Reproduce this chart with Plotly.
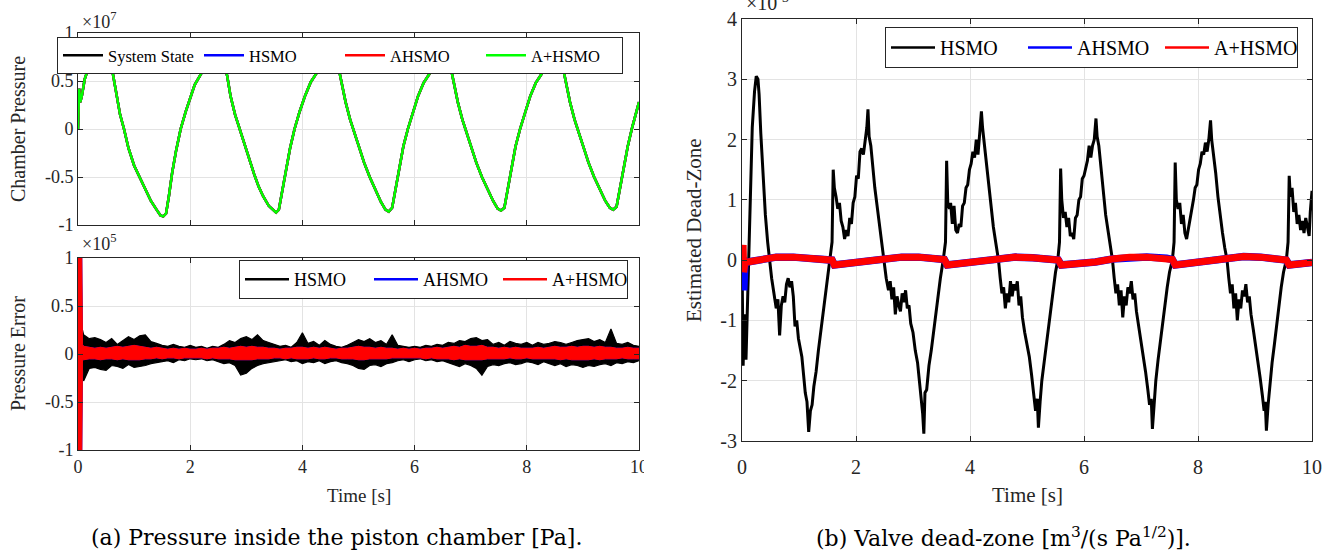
import numpy as np
import plotly.graph_objects as go

# ---------------- DATA ----------------
# (a) top: chamber pressure, units of 1e7 Pa
press_t = [0.00, 0.02, 0.04, 0.07, 0.12, 0.20, 0.30, 0.40, 0.47, 0.55, 0.62, 0.68, 0.75, 0.82, 0.90,
           1.00, 1.10, 1.20, 1.30, 1.40, 1.47, 1.52, 1.57, 1.62, 1.68, 1.75, 1.83, 1.92, 2.00, 2.08,
           2.18, 2.28, 2.38, 2.45, 2.52, 2.60, 2.66, 2.72, 2.80, 2.88, 2.96, 3.05, 3.14, 3.22, 3.30,
           3.40, 3.48, 3.53, 3.58, 3.63, 3.70, 3.78, 3.86, 3.95, 4.05, 4.15, 4.25, 4.35, 4.43, 4.50,
           4.56, 4.63, 4.70, 4.77, 4.85, 4.92, 5.00, 5.10, 5.20, 5.30, 5.40, 5.48, 5.54, 5.60, 5.65,
           5.72, 5.80, 5.88, 5.97, 6.06, 6.16, 6.26, 6.36, 6.44, 6.50, 6.56, 6.63, 6.70, 6.77, 6.85,
           6.92, 7.00, 7.10, 7.20, 7.30, 7.40, 7.48, 7.54, 7.60, 7.65, 7.72, 7.80, 7.88, 7.97, 8.06,
           8.16, 8.26, 8.36, 8.44, 8.50, 8.56, 8.63, 8.70, 8.77, 8.85, 8.92, 9.00, 9.10, 9.20, 9.30,
           9.40, 9.48, 9.54, 9.60, 9.65, 9.72, 9.80, 9.88, 9.95, 10.00]
press_state = [0.00, 0.42, 0.28, 0.35, 0.52, 0.66, 0.80, 0.86, 0.85, 0.75, 0.58, 0.36, 0.15, 0.00, -0.20,
               -0.38, -0.50, -0.62, -0.75, -0.84, -0.90, -0.91, -0.88, -0.70, -0.45, -0.22, 0.00, 0.18, 0.33, 0.46,
               0.56, 0.66, 0.78, 0.83, 0.80, 0.70, 0.55, 0.34, 0.15, 0.00, -0.15, -0.30, -0.47, -0.60, -0.70,
               -0.80, -0.85, -0.87, -0.84, -0.68, -0.45, -0.20, 0.00, 0.18, 0.35, 0.49, 0.58, 0.68, 0.80, 0.84,
               0.80, 0.68, 0.48, 0.28, 0.10, -0.03, -0.18, -0.35, -0.50, -0.64, -0.76, -0.84, -0.86, -0.82, -0.65,
               -0.42, -0.18, 0.00, 0.18, 0.34, 0.48, 0.57, 0.68, 0.80, 0.84, 0.80, 0.68, 0.48, 0.28, 0.10,
               -0.03, -0.18, -0.35, -0.50, -0.63, -0.75, -0.83, -0.85, -0.82, -0.65, -0.42, -0.18, 0.00, 0.18, 0.34,
               0.48, 0.57, 0.68, 0.80, 0.84, 0.80, 0.68, 0.48, 0.28, 0.10, -0.03, -0.18, -0.35, -0.50, -0.63,
               -0.75, -0.82, -0.84, -0.81, -0.65, -0.42, -0.18, 0.02, 0.17, 0.28]

# (a) bottom: pressure error, units of 1e5 Pa (envelopes of the noisy traces)
err_grid = [round(0.1 * k, 1) for k in range(1, 101)]
hsmo_err_head_t = [0.0, 0.03, 0.06, 0.08]
hsmo_err_head_up = [0.0, 0.45, 0.05, 0.25]
hsmo_err_head_lo = [0.0, 0.0, -0.10, -0.05]
hsmo_err_up = [0.20, 0.16, 0.17, 0.15, 0.12, 0.16, 0.10, 0.14, 0.18, 0.15,
               0.19, 0.20, 0.13, 0.11, 0.09, 0.08, 0.10, 0.08, 0.07, 0.09,
               0.07, 0.08, 0.06, 0.08, 0.07, 0.10, 0.14, 0.12, 0.16, 0.18,
               0.15, 0.20, 0.14, 0.12, 0.10, 0.08, 0.09, 0.07, 0.12, 0.22,
               0.11, 0.13, 0.09, 0.14, 0.10, 0.08, 0.07, 0.09, 0.12, 0.15,
               0.13, 0.16, 0.12, 0.14, 0.10, 0.20, 0.09, 0.08, 0.07, 0.08,
               0.07, 0.09, 0.08, 0.10, 0.09, 0.12, 0.11, 0.14, 0.13, 0.16,
               0.17, 0.14, 0.15, 0.10, 0.12, 0.09, 0.13, 0.11, 0.10, 0.12,
               0.09, 0.12, 0.10, 0.11, 0.13, 0.12, 0.10, 0.12, 0.14, 0.15,
               0.16, 0.13, 0.15, 0.12, 0.26, 0.11, 0.10, 0.12, 0.09, 0.08]
hsmo_err_lo = [-0.28, -0.15, -0.14, -0.16, -0.17, -0.12, -0.13, -0.15, -0.11, -0.14,
               -0.13, -0.12, -0.10, -0.09, -0.08, -0.07, -0.09, -0.06, -0.07, -0.05,
               -0.06, -0.05, -0.07, -0.06, -0.08, -0.10, -0.09, -0.12, -0.22, -0.20,
               -0.15, -0.12, -0.10, -0.09, -0.08, -0.07, -0.06, -0.08, -0.07, -0.10,
               -0.08, -0.09, -0.07, -0.10, -0.08, -0.07, -0.09, -0.10, -0.12, -0.15,
               -0.16, -0.12, -0.11, -0.13, -0.10, -0.09, -0.07, -0.06, -0.08, -0.06,
               -0.05, -0.07, -0.06, -0.08, -0.07, -0.09, -0.11, -0.13, -0.10, -0.12,
               -0.15, -0.22, -0.13, -0.11, -0.12, -0.10, -0.09, -0.11, -0.10, -0.08,
               -0.09, -0.11, -0.08, -0.10, -0.12, -0.10, -0.13, -0.11, -0.12, -0.14,
               -0.12, -0.13, -0.11, -0.10, -0.12, -0.09, -0.10, -0.08, -0.09, -0.07]
aplus_err_head_t = [0.0, 0.01, 0.065, 0.08]
aplus_err_head_up = [1.2, 1.2, 1.2, 0.10]
aplus_err_head_lo = [-1.2, -1.2, -1.2, -0.06]
aplus_err_up = [0.08, 0.07, 0.06, 0.07, 0.06, 0.07, 0.08, 0.07, 0.08, 0.09,
                0.08, 0.07, 0.06, 0.07, 0.06, 0.05, 0.06, 0.05, 0.06, 0.05,
                0.05, 0.06, 0.05, 0.06, 0.06, 0.07, 0.06, 0.07, 0.08, 0.07,
                0.08, 0.07, 0.07, 0.06, 0.06, 0.05, 0.06, 0.06, 0.07, 0.07,
                0.06, 0.07, 0.06, 0.07, 0.06, 0.05, 0.06, 0.06, 0.07, 0.08,
                0.07, 0.07, 0.06, 0.07, 0.06, 0.06, 0.05, 0.06, 0.05, 0.06,
                0.05, 0.06, 0.06, 0.07, 0.06, 0.07, 0.08, 0.07, 0.09, 0.08,
                0.08, 0.09, 0.07, 0.07, 0.06, 0.07, 0.06, 0.07, 0.06, 0.06,
                0.06, 0.07, 0.06, 0.07, 0.08, 0.07, 0.07, 0.08, 0.07, 0.08,
                0.08, 0.07, 0.08, 0.07, 0.07, 0.06, 0.06, 0.07, 0.06, 0.06]
aplus_err_lo = [-0.06, -0.05, -0.05, -0.06, -0.05, -0.05, -0.06, -0.05, -0.06, -0.06,
                -0.06, -0.05, -0.05, -0.04, -0.05, -0.04, -0.04, -0.05, -0.04, -0.04,
                -0.04, -0.04, -0.05, -0.04, -0.05, -0.05, -0.05, -0.06, -0.06, -0.06,
                -0.06, -0.05, -0.05, -0.05, -0.04, -0.04, -0.05, -0.04, -0.05, -0.05,
                -0.05, -0.04, -0.05, -0.05, -0.04, -0.04, -0.05, -0.05, -0.05, -0.06,
                -0.06, -0.05, -0.05, -0.05, -0.05, -0.04, -0.04, -0.04, -0.04, -0.04,
                -0.04, -0.05, -0.04, -0.05, -0.05, -0.05, -0.06, -0.05, -0.06, -0.06,
                -0.06, -0.06, -0.05, -0.05, -0.05, -0.05, -0.04, -0.05, -0.05, -0.04,
                -0.05, -0.05, -0.05, -0.05, -0.05, -0.06, -0.05, -0.06, -0.06, -0.06,
                -0.06, -0.05, -0.06, -0.05, -0.05, -0.05, -0.04, -0.05, -0.05, -0.05]

# (b) valve dead-zone estimate, units of 1e-3
dz_hsmo_t = [0.00, 0.02, 0.04, 0.07, 0.10, 0.14, 0.18, 0.22, 0.25, 0.28, 0.30, 0.33, 0.37, 0.41, 0.45, 0.48,
             0.52, 0.56, 0.60, 0.63, 0.66, 0.69, 0.72, 0.75, 0.78, 0.81, 0.84, 0.87, 0.90, 0.93, 0.96, 0.99,
             1.02, 1.05, 1.08, 1.11, 1.14, 1.17, 1.20, 1.23, 1.26, 1.30, 1.34, 1.38, 1.42, 1.46, 1.50, 1.54,
             1.58, 1.60, 1.62, 1.65, 1.68, 1.71, 1.74, 1.77, 1.80, 1.83, 1.86, 1.89, 1.92, 1.95, 1.98, 2.01,
             2.04, 2.07, 2.10, 2.13, 2.16, 2.19, 2.21, 2.23, 2.26, 2.29, 2.33, 2.37, 2.41, 2.45, 2.50,
             2.53, 2.57, 2.60, 2.63, 2.66, 2.69, 2.72, 2.75, 2.78, 2.81, 2.84, 2.87, 2.90, 2.93, 2.96, 3.00,
             3.04, 3.08, 3.11, 3.14, 3.17, 3.19, 3.21, 3.24, 3.28, 3.32, 3.36, 3.40, 3.44, 3.48, 3.53, 3.57,
             3.59, 3.61, 3.64, 3.66, 3.69, 3.72, 3.75, 3.78, 3.81, 3.84, 3.87, 3.90, 3.93, 3.96, 3.99, 4.02,
             4.05, 4.08, 4.11, 4.14, 4.17, 4.20, 4.22, 4.25, 4.29, 4.33, 4.37, 4.41, 4.45, 4.50,
             4.53, 4.56, 4.59, 4.62, 4.65, 4.68, 4.71, 4.74, 4.77, 4.80, 4.83, 4.86, 4.89, 4.92, 4.96, 5.00,
             5.04, 5.08, 5.12, 5.15, 5.18, 5.20, 5.23, 5.26, 5.30, 5.34, 5.38, 5.42, 5.46, 5.50, 5.54, 5.57,
             5.59, 5.61, 5.64, 5.67, 5.70, 5.73, 5.76, 5.79, 5.82, 5.85, 5.88, 5.91, 5.94, 5.97, 6.00, 6.03,
             6.06, 6.09, 6.12, 6.15, 6.18, 6.21, 6.23, 6.26, 6.30, 6.34, 6.38, 6.42, 6.46, 6.50,
             6.53, 6.56, 6.59, 6.62, 6.65, 6.68, 6.71, 6.74, 6.77, 6.80, 6.83, 6.86, 6.89, 6.92, 6.96, 7.00,
             7.04, 7.08, 7.12, 7.15, 7.18, 7.20, 7.23, 7.26, 7.30, 7.34, 7.38, 7.42, 7.46, 7.50, 7.55, 7.58,
             7.60, 7.62, 7.65, 7.68, 7.71, 7.74, 7.77, 7.80, 7.83, 7.86, 7.89, 7.92, 7.95, 7.98, 8.01, 8.04,
             8.07, 8.10, 8.13, 8.16, 8.19, 8.22, 8.24, 8.27, 8.31, 8.35, 8.39, 8.43, 8.47, 8.51,
             8.54, 8.57, 8.60, 8.63, 8.66, 8.69, 8.72, 8.75, 8.78, 8.81, 8.84, 8.87, 8.90, 8.93, 8.97, 9.01,
             9.05, 9.09, 9.13, 9.16, 9.18, 9.20, 9.23, 9.26, 9.30, 9.34, 9.38, 9.42, 9.46, 9.50, 9.55, 9.58,
             9.60, 9.62, 9.65, 9.68, 9.71, 9.74, 9.77, 9.80, 9.83, 9.86, 9.89, 9.92, 9.95, 9.97, 10.00]
dz_hsmo = [0.0, -1.75, -0.9, -1.65, -0.6, 0.8, 2.2, 2.8, 3.05, 3.0, 2.75, 2.1, 1.3, 0.75, 0.3, 0.0,
           -0.3, -0.55, -0.8, -0.65, -1.25, -0.75, -0.6, -0.7, -0.4, -0.3, -0.45, -0.35, -0.6, -1.1, -1.0, -1.3,
           -1.45, -1.6, -1.9, -2.2, -2.35, -2.85, -2.5, -2.4, -2.1, -1.85, -1.5, -1.2, -0.9, -0.55, -0.25, 0.0,
           0.3, 1.5, 1.2, 1.05, 0.85, 0.95, 0.65, 0.55, 0.35, 0.5, 0.4, 0.7, 0.6, 0.95, 1.05, 1.4,
           1.35, 1.8, 1.85, 1.75, 1.95, 2.2, 2.5, 2.05, 1.9, 1.55, 1.2, 0.9, 0.6, 0.35, 0.0,
           -0.3, -0.5, -0.35, -0.65, -0.45, -0.9, -0.6, -0.75, -0.85, -0.55, -0.7, -0.5, -0.8, -0.75, -1.05, -1.2,
           -1.5, -1.7, -2.0, -2.2, -2.55, -2.88, -2.2, -2.15, -1.75, -1.5, -1.2, -0.9, -0.55, -0.3, 0.0, 0.3,
           1.65, 0.95, 0.85, 0.95, 0.6, 0.9, 0.5, 0.45, 0.6, 0.55, 0.9, 0.95, 1.2, 1.25, 1.5, 1.6,
           1.8, 1.7, 2.0, 1.75, 2.1, 2.47, 2.2, 1.95, 1.6, 1.2, 0.85, 0.55, 0.3, 0.0,
           -0.3, -0.55, -0.45, -0.8, -0.55, -0.7, -0.35, -0.6, -0.4, -0.5, -0.35, -0.75, -0.6, -0.95, -1.2, -1.4,
           -1.6, -1.9, -2.2, -2.5, -2.3, -2.78, -2.35, -2.0, -1.7, -1.4, -1.1, -0.75, -0.45, -0.2, 0.0, 0.3,
           1.52, 1.0, 0.7, 0.8, 0.55, 0.7, 0.4, 0.45, 0.35, 0.7, 0.75, 1.0, 1.05, 1.35, 1.4, 1.55,
           1.65, 1.9, 1.7, 1.9, 2.0, 2.35, 2.05, 1.9, 1.5, 1.1, 0.75, 0.5, 0.25, 0.0,
           -0.3, -0.55, -0.4, -0.75, -0.5, -0.95, -0.6, -0.75, -0.45, -0.55, -0.35, -0.65, -0.55, -0.85, -1.1, -1.35,
           -1.55, -1.85, -2.15, -2.4, -2.3, -2.8, -2.4, -2.0, -1.65, -1.35, -1.05, -0.7, -0.45, -0.2, 0.0, 0.3,
           1.62, 1.0, 0.85, 0.95, 0.6, 0.75, 0.45, 0.35, 0.5, 0.65, 0.8, 1.0, 1.2, 1.25, 1.5, 1.6,
           1.8, 1.75, 1.95, 1.8, 2.0, 2.32, 2.0, 1.8, 1.45, 1.05, 0.7, 0.45, 0.2, 0.0,
           -0.3, -0.55, -0.4, -0.8, -0.55, -1.0, -0.65, -0.8, -0.5, -0.6, -0.4, -0.7, -0.6, -0.9, -1.15, -1.4,
           -1.65, -1.95, -2.25, -2.5, -2.35, -2.83, -2.4, -2.05, -1.7, -1.4, -1.05, -0.75, -0.45, -0.2, 0.0, 0.3,
           1.4, 1.05, 1.2, 0.8, 0.95, 0.6, 0.75, 0.5, 0.65, 0.45, 0.7, 0.55, 0.4, 0.8, 1.15]
dz_adapt_t = [0.00, 0.02, 0.03, 0.05, 0.10, 0.30, 0.60, 0.90, 1.20, 1.50, 1.58, 1.62, 1.90, 2.20, 2.50,
              2.80, 3.10, 3.45, 3.55, 3.60, 3.90, 4.20, 4.50, 4.80, 5.10, 5.45, 5.55, 5.60, 5.90, 6.20,
              6.50, 6.80, 7.10, 7.45, 7.55, 7.60, 7.90, 8.20, 8.50, 8.80, 9.10, 9.45, 9.55, 9.60, 9.80, 10.00]
dz_ahsmo = [0.0, 0.05, -0.50, -0.05, -0.03, 0.0, 0.05, 0.05, 0.03, 0.02, 0.0, -0.08, -0.05, -0.02, 0.02,
            0.05, 0.05, 0.03, 0.01, -0.08, -0.05, -0.02, 0.03, 0.05, 0.04, 0.02, 0.0, -0.08, -0.06, -0.03,
            0.02, 0.05, 0.05, 0.03, 0.01, -0.08, -0.05, -0.02, 0.03, 0.06, 0.05, 0.03, 0.0, -0.08, -0.05, -0.04]
dz_aplus = [0.0, 0.25, -0.20, -0.05, -0.03, 0.0, 0.05, 0.05, 0.03, 0.02, 0.0, -0.08, -0.05, -0.02, 0.02,
            0.05, 0.05, 0.03, 0.01, -0.08, -0.05, -0.02, 0.03, 0.05, 0.04, 0.02, 0.0, -0.08, -0.06, -0.03,
            0.02, 0.05, 0.05, 0.03, 0.01, -0.08, -0.05, -0.02, 0.03, 0.06, 0.05, 0.03, 0.0, -0.08, -0.05, -0.04]

time_ticks = [0, 2, 4, 6, 8, 10]
time_ticktext = ["0", "2", "4", "6", "8", "10"]
unit_ticks = [-1, -0.5, 0, 0.5, 1]
unit_ticktext = ["-1", "-0.5", "0", "0.5", "1"]
dz_ticks = [-3, -2, -1, 0, 1, 2, 3, 4]
dz_ticktext = ["-3", "-2", "-1", "0", "1", "2", "3", "4"]

# ---------------- FIGURE ----------------
W, H = 1340, 553
BLACK, BLUE, RED, GREEN = "#000000", "#0000ff", "#ff0000", "#00ff00"
SERIF = "Liberation Serif"
CAP = "DejaVu Serif"


def px(x):
    return x / W


def py(y):
    return 1 - y / H


fig = go.Figure()

# --- top-left: chamber pressure
for name, col in [("System State", BLACK), ("HSMO", BLUE), ("AHSMO", RED), ("A+HSMO", GREEN)]:
    fig.add_trace(go.Scatter(x=press_t, y=press_state, mode="lines", name=name,
                             line=dict(color=col, width=2.5), xaxis="x", yaxis="y", legend="legend"))

# --- bottom-left: pressure error (noise bands)
h_t = hsmo_err_head_t + err_grid
fig.add_trace(go.Scatter(x=h_t, y=hsmo_err_head_lo + hsmo_err_lo, mode="lines", line=dict(color=BLACK, width=1.2),
                         showlegend=False, xaxis="x2", yaxis="y2", hoverinfo="skip"))
fig.add_trace(go.Scatter(x=h_t, y=hsmo_err_head_up + hsmo_err_up, mode="lines", line=dict(color=BLACK, width=1.2),
                         fill="tonexty", fillcolor=BLACK, showlegend=False, xaxis="x2", yaxis="y2", hoverinfo="skip"))
a_t = aplus_err_head_t + err_grid
for col in (BLUE, RED):
    fig.add_trace(go.Scatter(x=a_t, y=aplus_err_head_lo + aplus_err_lo, mode="lines", line=dict(color=col, width=1),
                             showlegend=False, xaxis="x2", yaxis="y2", hoverinfo="skip"))
    fig.add_trace(go.Scatter(x=a_t, y=aplus_err_head_up + aplus_err_up, mode="lines", line=dict(color=col, width=1),
                             fill="tonexty", fillcolor=col, showlegend=False, xaxis="x2", yaxis="y2", hoverinfo="skip"))
for name, col in [("HSMO", BLACK), ("AHSMO", BLUE), ("A+HSMO", RED)]:
    fig.add_trace(go.Scatter(x=[None], y=[None], mode="lines", name=name, line=dict(color=col, width=2.5),
                             xaxis="x2", yaxis="y2", legend="legend2"))

# --- right: dead-zone
fig.add_trace(go.Scatter(x=dz_hsmo_t, y=dz_hsmo, mode="lines", line=dict(color=BLACK, width=3),
                         showlegend=False, xaxis="x3", yaxis="y3"))
fig.add_trace(go.Scatter(x=dz_adapt_t, y=dz_ahsmo, mode="lines", line=dict(color=BLUE, width=7.5),
                         showlegend=False, xaxis="x3", yaxis="y3"))
fig.add_trace(go.Scatter(x=dz_adapt_t, y=dz_aplus, mode="lines", line=dict(color=RED, width=7),
                         showlegend=False, xaxis="x3", yaxis="y3"))
for name, col in [("HSMO", BLACK), ("AHSMO", BLUE), ("A+HSMO", RED)]:
    fig.add_trace(go.Scatter(x=[None], y=[None], mode="lines", name=name, line=dict(color=col, width=2.5),
                             xaxis="x3", yaxis="y3", legend="legend3"))

axis_common = dict(showline=True, linecolor="#262626", linewidth=1, mirror="ticks", ticks="inside",
                   ticklen=5, tickcolor="#262626", showgrid=True, gridcolor="#e3e3e3", gridwidth=1,
                   zeroline=False, fixedrange=True)

legend_common = dict(orientation="h", xanchor="left", yanchor="top", bgcolor="white",
                     bordercolor="#262626", borderwidth=1, traceorder="normal",
                     itemclick=False, itemdoubleclick=False)

xl_dom = [px(78), px(639)]
fig.update_layout(
    width=W, height=H, margin=dict(l=0, r=0, t=0, b=0, autoexpand=False),
    paper_bgcolor="white", plot_bgcolor="white",
    xaxis=dict(domain=xl_dom, anchor="y", range=[0, 10], tickvals=time_ticks, showticklabels=False, **axis_common),
    yaxis=dict(domain=[py(225), py(33)], anchor="x", range=[-1, 1], tickvals=unit_ticks, ticktext=unit_ticktext,
               tickfont=dict(family=SERIF, size=18, color="#262626"), **axis_common),
    xaxis2=dict(domain=xl_dom, anchor="y2", range=[0, 10], tickvals=time_ticks, ticktext=time_ticktext,
                tickfont=dict(family=SERIF, size=18, color="#262626"), **axis_common),
    yaxis2=dict(domain=[py(450), py(258)], anchor="x2", range=[-1, 1], tickvals=unit_ticks, ticktext=unit_ticktext,
                tickfont=dict(family=SERIF, size=18, color="#262626"), **axis_common),
    xaxis3=dict(domain=[px(742), px(1312)], anchor="y3", range=[0, 10], tickvals=time_ticks, ticktext=time_ticktext,
                tickfont=dict(family=SERIF, size=20, color="#262626"), ticklabelstandoff=8, **axis_common),
    yaxis3=dict(domain=[py(441), py(19)], anchor="x3", range=[-3, 4], tickvals=dz_ticks, ticktext=dz_ticktext,
                tickfont=dict(family=SERIF, size=20, color="#262626"), **axis_common),
    legend=dict(x=px(57), y=py(37), entrywidth=86, itemwidth=40,
                font=dict(family=SERIF, size=16.5, color="black"), **legend_common),
    legend2=dict(x=px(239), y=py(260), entrywidth=70, itemwidth=44,
                 font=dict(family=SERIF, size=18, color="black"), **legend_common),
    legend3=dict(x=px(885), y=py(27), entrywidth=78, itemwidth=44,
                 font=dict(family=SERIF, size=20, color="black"), **legend_common),
    showlegend=True,
)

ann = []


def text(x, y, s, size, family=SERIF, angle=0, xanchor="center", color="#262626"):
    ann.append(dict(x=px(x), y=py(y), xref="paper", yref="paper", text=s, showarrow=False,
                    font=dict(family=family, size=size, color=color), textangle=angle,
                    xanchor=xanchor, yanchor="middle"))


text(18, 129, "Chamber Pressure", 20, angle=-90)
text(18, 354, "Pressure Error", 20, angle=-90)
text(694, 230, "Estimated Dead-Zone", 21, angle=-90)
text(359, 495, "Time [s]", 19)
text(1027, 495, "Time [s]", 21)
text(80, 21, "×10<sup>7</sup>", 18, xanchor="left")
text(80, 242, "×10<sup>5</sup>", 18, xanchor="left")
text(744, 2, "×10<sup>-3</sup>", 20, xanchor="left")
text(336, 537, "(a) Pressure inside the piston chamber [Pa].", 22, family=CAP, color="black")
text(1003, 537, "(b) Valve dead-zone [m<sup>3</sup>/(s Pa<sup>1/2</sup>)].", 22, family=CAP, color="black")
fig.update_layout(annotations=ann)

# crop edge of the left sub-figure (the "10" label is cut in the source)
fig.add_shape(type="rect", xref="paper", yref="paper", x0=px(644), x1=px(700), y0=py(482), y1=py(455),
              fillcolor="white", line=dict(width=0), layer="above")

fig.write_html("out.html", config={"displayModeBar": False},
               post_script="document.body.style.margin='0';document.body.style.overflow='hidden';")
